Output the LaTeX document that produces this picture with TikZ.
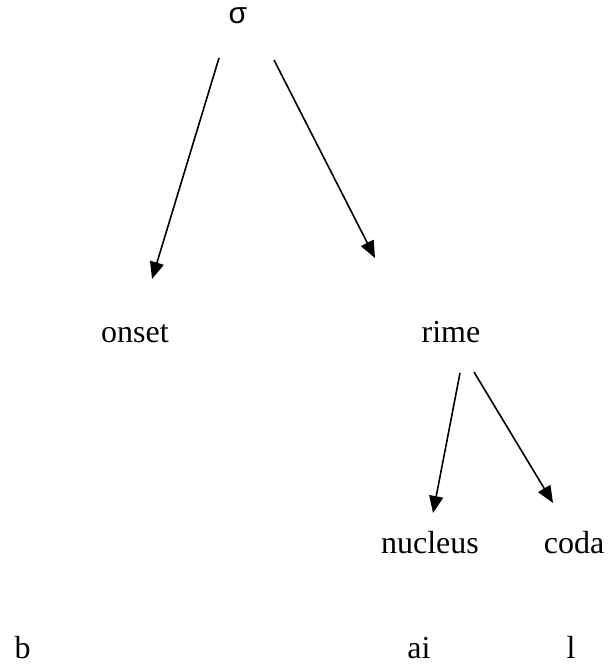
\documentclass[tikz,border=0pt]{standalone}
\usepackage{fontspec}
\setmainfont{Liberation Serif}
\newfontfamily\sigmafont{Liberation Sans}
\usetikzlibrary{arrows.meta,calc}
\tikzset{
  lbl/.style={inner sep=0pt, anchor=base, font=\fontsize{32}{36}\selectfont},
  arr/.style={line width=1.6pt, -{Triangle[length=17pt,width=14pt]}}
}
\begin{document}
\begin{tikzpicture}[x=1pt,y=-1pt]
\useasboundingbox (0,0) rectangle (608,665);
\node[lbl,font=\fontsize{30}{36}\sigmafont] (s) at (238,23) {σ};
\node[lbl] (onset) at (135,342) {onset};
\node[lbl] (rime) at (451,342) {rime};
\node[lbl] (nucleus) at (430,553) {nucleus};
\node[lbl] (coda) at (574,553) {coda};
\node[lbl] (b) at (22.5,658) {b};
\node[lbl] (ai) at (419,658) {ai};
\node[lbl] (l) at (571,658) {l};
\draw[arr] ($(s.base)+(-19,35)$) -- ($(onset.base)+(17,-63)$);
\draw[arr] ($(s.base)+(36,37)$) -- ($(rime.base)+(-76,-84)$);
\draw[arr] ($(rime.base)+(9,31)$) -- ($(nucleus.base)+(3,-40)$);
\draw[arr] ($(rime.base)+(23,30)$) -- ($(coda.base)+(-21,-50)$);
\end{tikzpicture}
\end{document}
